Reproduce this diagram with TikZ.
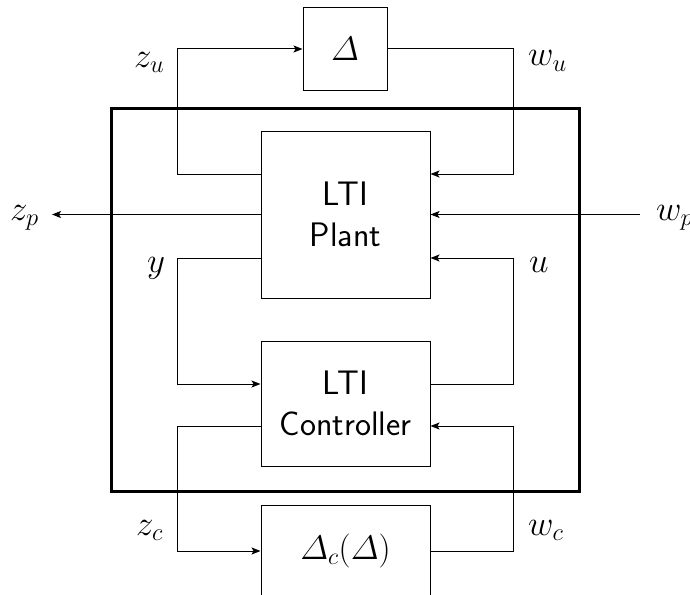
\RequirePackage{fix-cm}
\documentclass[tikz,border=0pt]{standalone}
\usetikzlibrary{arrows.meta}
\begin{document}
\begin{tikzpicture}[x=1pt,y=-1pt,
  blk/.style={draw,line width=1pt,inner sep=0pt,align=center,font=\sffamily\fontsize{34}{41}\selectfont},
  wire/.style={line width=1pt},
  arr/.style={wire,-{Stealth[length=9pt,width=7pt,inset=2pt]}},
  lbl/.style={inner sep=0pt,anchor=base west,font=\fontsize{35}{40}\selectfont}]
\useasboundingbox (0,0) rectangle (690,594);
\clip (0,0) rectangle (690,594);
% outer frame
\draw[line width=3pt] (111,108) rectangle (579,491);
% blocks
\node[blk,minimum width=84pt,minimum height=82pt] (delta) at (345,49) {$\mathnormal{\Delta}$};
\node[blk,minimum width=169pt,minimum height=167pt] (plant) at (345.5,214.5) {LTI\\Plant};
\node[blk,minimum width=169pt,minimum height=125pt] (ctrl) at (345.5,403.5) {LTI\\Controller};
\node[blk,minimum width=169pt,minimum height=92pt] (dc) at (345.5,551) {$\mathnormal{\Delta}_c(\mathnormal{\Delta})$};
% turning points
\coordinate (c1) at (177,174);
\coordinate (c2) at (513,174);
\coordinate (zpend) at (52,214.5);
\coordinate (wpstart) at (640,214.5);
\coordinate (c4) at (177,258);
\coordinate (c5) at (177,384);
\coordinate (c6) at (513,384);
\coordinate (c7) at (513,258);
\coordinate (c8) at (177,426);
\coordinate (c9) at (177,551);
\coordinate (c10) at (513,551);
\coordinate (c11) at (513,426);
% connectors
\draw[arr] (plant.west |- c1) -- (c1) |- (delta.west);
\draw[arr] (delta.east) -| (c2) -- (plant.east |- c2);
\draw[arr] (plant.west) -- (zpend);
\draw[arr] (wpstart) -- (plant.east);
\draw[arr] (plant.west |- c4) -- (c4) -- (c5) -- (ctrl.west |- c5);
\draw[arr] (ctrl.east |- c6) -- (c6) -- (c7) -- (plant.east |- c7);
\draw[arr] (ctrl.west |- c8) -- (c8) -- (c9) -- (dc.west);
\draw[arr] (dc.east) -- (c10) -- (c11) -- (ctrl.east |- c11);
% labels
\node[lbl] (lzu) at (134,67) {$z_u$};
\node[lbl] (lwu) at (528,66) {$w_u$};
\node[lbl] (lzp) at (10,220) {$z_p$};
\node[lbl] (lwp) at (656,220) {$w_p$};
\node[lbl] (ly) at (147,272) {$y$};
\node[lbl] (lu) at (529,272) {$u$};
\node[lbl] (lzc) at (136,535) {$z_c$};
\node[lbl] (lwc) at (528,535) {$w_c$};
\end{tikzpicture}
\end{document}
